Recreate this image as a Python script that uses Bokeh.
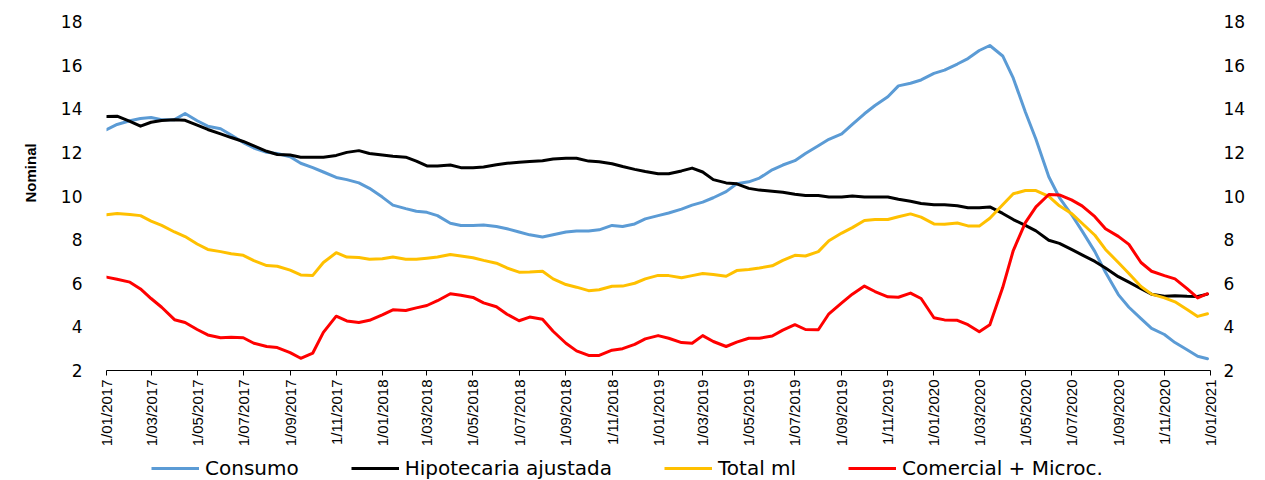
from math import pi
import pandas as pd
from bokeh.plotting import figure
from bokeh.layouts import column
from bokeh.models import Range1d, LinearAxis, FixedTicker, Legend, LegendItem, Title
from bokeh.embed import file_html
from bokeh.resources import INLINE

# --- sampling dates (1st and 15th of each month) ---
dates = [f"{yr}-{mo:02d}-{dd:02d}" for yr in (2017, 2018, 2019, 2020)
         for mo in range(1, 13) for dd in (1, 15)] + ["2020-12-28"]

consumo = [
    13.04, 13.28, 13.45, 13.55, 13.6, 13.5, 13.5, 13.78, 13.45, 13.2, 13.08, 12.8,
    12.45, 12.2, 12.0, 11.95, 11.8, 11.5, 11.3, 11.1, 10.85, 10.75, 10.6, 10.35,
    9.95, 9.58, 9.42, 9.3, 9.25, 9.1, 8.75, 8.65, 8.65, 8.67, 8.6, 8.5,
    8.35, 8.22, 8.12, 8.22, 8.35, 8.4, 8.4, 8.45, 8.65, 8.6, 8.72, 8.95,
    9.1, 9.22, 9.4, 9.58, 9.72, 9.92, 10.2, 10.56, 10.65, 10.82, 11.2, 11.42,
    11.62, 11.95, 12.3, 12.6, 12.85, 13.28, 13.77, 14.15, 14.55, 15.05, 15.17, 15.32,
    15.62, 15.77, 16.05, 16.3, 16.67, 16.9, 16.42, 15.4, 13.85, 12.6, 10.88, 9.93,
    9.15, 8.4, 7.45, 6.5, 5.48, 4.9, 4.38, 3.93, 3.65, 3.28, 2.95, 2.65, 2.54]

hipotecaria = [
    13.64, 13.66, 13.42, 13.2, 13.38, 13.46, 13.5, 13.47, 13.25, 13.05, 12.85, 12.68,
    12.5, 12.3, 12.05, 11.9, 11.88, 11.78, 11.78, 11.78, 11.86, 12.0, 12.08, 11.95,
    11.88, 11.82, 11.78, 11.6, 11.38, 11.38, 11.42, 11.3, 11.3, 11.33, 11.43, 11.5,
    11.55, 11.58, 11.62, 11.7, 11.73, 11.73, 11.6, 11.57, 11.48, 11.35, 11.22, 11.12,
    11.02, 11.02, 11.15, 11.28, 11.1, 10.75, 10.6, 10.56, 10.35, 10.27, 10.22, 10.17,
    10.08, 10.02, 10.02, 9.95, 9.95, 10.0, 9.95, 9.95, 9.95, 9.85, 9.76, 9.66,
    9.6, 9.6, 9.55, 9.46, 9.46, 9.5, 9.2, 8.92, 8.65, 8.4, 7.97, 7.83,
    7.55, 7.3, 7.0, 6.7, 6.3, 6.05, 5.75, 5.5, 5.4, 5.43, 5.4, 5.39, 5.5]

total_ml = [
    9.14, 9.2, 9.15, 9.1, 8.85, 8.65, 8.35, 8.14, 7.8, 7.55, 7.45, 7.35,
    7.28, 7.04, 6.81, 6.78, 6.6, 6.38, 6.36, 6.95, 7.4, 7.2, 7.18, 7.1,
    7.12, 7.2, 7.1, 7.1, 7.15, 7.2, 7.32, 7.25, 7.17, 7.05, 6.92, 6.7,
    6.51, 6.52, 6.55, 6.2, 5.94, 5.82, 5.66, 5.7, 5.86, 5.87, 6.0, 6.2,
    6.36, 6.35, 6.25, 6.35, 6.45, 6.4, 6.32, 6.58, 6.63, 6.7, 6.8, 7.05,
    7.28, 7.25, 7.45, 7.95, 8.3, 8.55, 8.88, 8.92, 8.92, 9.05, 9.18, 9.03,
    8.72, 8.7, 8.76, 8.63, 8.62, 8.98, 9.6, 10.1, 10.25, 10.25, 9.98, 9.55,
    9.2, 8.75, 8.2, 7.55, 6.95, 6.45, 5.85, 5.5, 5.33, 5.15, 4.8, 4.48, 4.6]

comercial = [
    6.28, 6.18, 6.05, 5.74, 5.3, 4.9, 4.33, 4.2, 3.88, 3.63, 3.5, 3.52,
    3.5, 3.25, 3.1, 3.05, 2.82, 2.56, 2.8, 3.75, 4.49, 4.27, 4.2, 4.3,
    4.55, 4.78, 4.75, 4.87, 4.98, 5.2, 5.52, 5.45, 5.35, 5.1, 4.92, 4.58,
    4.28, 4.45, 4.35, 3.8, 3.25, 2.9, 2.69, 2.69, 2.93, 3.0, 3.2, 3.45,
    3.6, 3.48, 3.28, 3.25, 3.6, 3.33, 3.1, 3.3, 3.48, 3.48, 3.58, 3.85,
    4.1, 3.88, 3.87, 4.6, 5.1, 5.5, 5.87, 5.62, 5.38, 5.36, 5.55, 5.3,
    4.42, 4.32, 4.3, 4.1, 3.78, 4.1, 5.8, 7.5, 8.78, 9.5, 10.07, 10.05,
    9.82, 9.55, 9.05, 8.5, 8.15, 7.78, 6.95, 6.55, 6.35, 6.2, 5.75, 5.33, 5.52]

series_names = ["Consumo", "Hipotecaria ajustada", "Total ml", "Comercial + Microc."]
series_colors = ["#5B9BD5", "#000000", "#FFC000", "#FF0000"]

tick_labels = ["1/01/2017", "1/03/2017", "1/05/2017", "1/07/2017", "1/09/2017", "1/11/2017",
               "1/01/2018", "1/03/2018", "1/05/2018", "1/07/2018", "1/09/2018", "1/11/2018",
               "1/01/2019", "1/03/2019", "1/05/2019", "1/07/2019", "1/09/2019", "1/11/2019",
               "1/01/2020", "1/03/2020", "1/05/2020", "1/07/2020", "1/09/2020", "1/11/2020",
               "1/01/2021"]
y_ticks = [2, 4, 6, 8, 10, 12, 14, 16, 18]
y_label = "Nominal"


def ms(d):
    return int(pd.Timestamp(d).value // 10**6)


x = [ms(d) for d in dates]
tick_ms = [ms(pd.to_datetime(t, format="%d/%m/%Y")) for t in tick_labels]
all_series = [consumo, hipotecaria, total_ml, comercial]

p = figure(width=1265, height=450, x_axis_type="datetime",
           x_range=Range1d(tick_ms[0], tick_ms[-1]), y_range=Range1d(y_ticks[0], y_ticks[-1]),
           output_backend="svg", toolbar_location=None,
           min_border_left=106, min_border_right=55, min_border_top=21, min_border_bottom=80)
p.outline_line_color = None
p.xgrid.visible = False
p.ygrid.visible = False
p.background_fill_color = "white"
p.border_fill_color = "white"

# x axis
xa = p.xaxis[0]
xa.ticker = FixedTicker(ticks=tick_ms)
xa.major_label_overrides = {t: l for t, l in zip(tick_ms, tick_labels)}
xa.major_label_orientation = pi / 2
xa.major_label_text_font = "Liberation Sans"
xa.major_label_text_font_size = "15px"
xa.major_label_text_color = "#000000"
xa.major_label_standoff = 4
xa.axis_line_color = "#000000"
xa.axis_line_width = 1.2
xa.major_tick_line_color = "#000000"
xa.major_tick_out = 5
xa.major_tick_in = 0
xa.minor_tick_line_color = None


def style_value_axis(ax, standoff):
    ax.ticker = FixedTicker(ticks=y_ticks)
    ax.axis_line_color = None
    ax.major_tick_line_color = None
    ax.minor_tick_line_color = None
    ax.major_tick_out = 0
    ax.major_tick_in = 0
    ax.major_label_text_font = "DejaVu Sans"
    ax.major_label_text_font_size = "17px"
    ax.major_label_text_color = "#000000"
    ax.major_label_standoff = standoff


style_value_axis(p.yaxis[0], 24)

ra = LinearAxis()
style_value_axis(ra, 13)
p.add_layout(ra, "right")

# vertical "Nominal" title at the left
p.add_layout(Title(text=y_label, align="left", offset=168, standoff=37,
                   text_font="Liberation Sans", text_font_style="bold",
                   text_font_size="15px", text_color="#000000"), "left")

for vals, col in zip(all_series, series_colors):
    p.line(x, vals, line_color=col, line_width=3, line_join="round", line_cap="round")

# legend strip below the chart (proxy lines fall outside its ranges, only the legend shows)
q = figure(width=1265, height=30, x_range=Range1d(0, 1), y_range=Range1d(0, 1),
           output_backend="svg", toolbar_location=None,
           min_border_left=0, min_border_right=0, min_border_top=0, min_border_bottom=0,
           x_axis_location=None, y_axis_location=None)
q.outline_line_color = None
q.xgrid.visible = False
q.ygrid.visible = False
leg_r = [q.line(x=x, y=vals, line_color=c, line_width=3)
         for vals, c in zip(all_series, series_colors)]
legend = Legend(items=[LegendItem(label=n, renderers=[r]) for n, r in zip(series_names, leg_r)],
                location=(45, 0), orientation="horizontal", padding=0, margin=0, spacing=52,
                glyph_width=48, glyph_height=20, label_height=20, label_standoff=6,
                border_line_color=None, background_fill_alpha=0,
                label_text_font="DejaVu Sans", label_text_font_size="20px",
                label_text_color="#000000")
q.add_layout(legend)

open("out.html", "w").write(file_html(column(p, q, spacing=0), INLINE))
